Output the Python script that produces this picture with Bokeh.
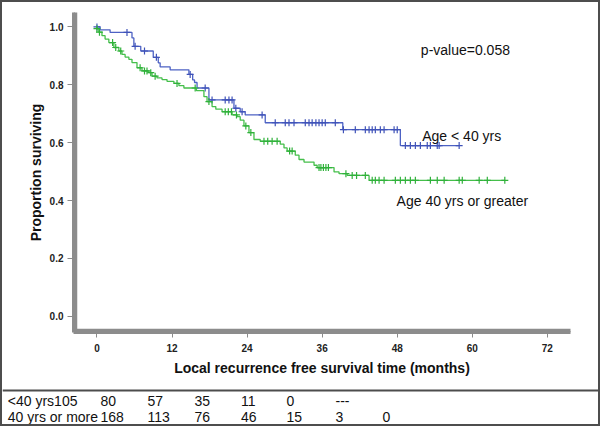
import numpy as np
from bokeh.plotting import figure
from bokeh.models import Range1d, Label, Span, NumeralTickFormatter, ColumnDataSource
from bokeh.layouts import column
from bokeh.embed import file_html
from bokeh.resources import INLINE
from bokeh.core.properties import value

# ---------------- data ----------------
x_ticks = [0, 12, 24, 36, 48, 60, 72]
y_ticks = [0.0, 0.2, 0.4, 0.6, 0.8, 1.0]

# Age < 40 yrs : event times (months) and survival after each step
lt40_event_months = [0.5, 2.1, 5.6, 5.9, 7.0, 9.0, 9.8, 10.1, 11.7, 14.7, 15.3, 15.6,
                     16.0, 17.9, 21.9, 22.9, 23.7, 26.9, 39.3, 48.5]
lt40_survival = [0.990, 0.981, 0.962, 0.933, 0.917, 0.895, 0.876, 0.862, 0.852, 0.836,
                 0.817, 0.808, 0.789, 0.748, 0.719, 0.707, 0.696, 0.669, 0.645, 0.590]
lt40_censored = [0.0, 4.8, 6.1, 7.6, 9.5, 14.9, 17.3, 18.4, 20.5, 21.1, 21.6, 22.2, 23.2,
                 26.4, 28.5, 30.1, 30.7, 31.5, 33.3, 33.9, 34.4, 35.0, 35.5, 36.0, 36.5,
                 38.1, 39.4, 41.3, 42.9, 43.5, 44.0, 44.5, 45.3, 45.9, 47.5, 48.0, 49.3,
                 50.1, 50.9, 51.7, 52.8, 53.3, 54.4, 54.7, 57.9]

# Age 40 yrs or greater
ge40_event_months = [0.0, 0.3, 0.8, 1.3, 1.9, 2.7, 3.5, 4.0, 4.5, 5.1, 5.6, 6.4, 7.2, 8.3,
                     8.8, 9.6, 10.4, 11.2, 12.3, 13.1, 13.9, 15.9, 17.1, 17.6, 18.4, 19.0,
                     20.0, 21.6, 22.4, 22.9, 23.5, 24.3, 25.1, 26.1, 29.3, 29.9, 30.4, 31.7,
                     32.3, 33.1, 34.7, 35.2, 37.9, 38.7, 40.0, 43.5]
ge40_survival = [0.994, 0.982, 0.970, 0.958, 0.946, 0.929, 0.917, 0.905, 0.896, 0.888,
                 0.877, 0.859, 0.848, 0.842, 0.830, 0.824, 0.818, 0.812, 0.805, 0.797,
                 0.789, 0.780, 0.759, 0.742, 0.725, 0.716, 0.707, 0.696, 0.690, 0.678,
                 0.658, 0.635, 0.611, 0.605, 0.595, 0.582, 0.571, 0.557, 0.542, 0.533,
                 0.522, 0.514, 0.499, 0.493, 0.487, 0.470]
ge40_censored = [0.0, 0.4, 2.5, 3.0, 3.8, 6.9, 7.6, 8.0, 8.6, 9.3, 12.8, 15.7, 17.9, 20.5,
                 21.0, 21.5, 22.3, 23.8, 24.6, 26.7, 27.3, 28.0, 28.8, 30.8, 31.2, 35.5,
                 35.8, 36.2, 36.6, 37.0, 39.8, 40.8, 41.5, 42.9, 44.0, 44.5, 45.1, 45.9,
                 47.7, 48.5, 49.3, 50.1, 50.9, 53.3, 54.4, 55.5, 57.9, 58.4, 61.1, 62.4,
                 65.2]

# numbers at risk table
risk_row_labels = ["<40 yrs", "40 yrs or more"]
at_risk_lt40 = [105, 80, 57, 35, 11, 0, None]
at_risk_ge40 = [168, 113, 76, 46, 15, 3, 0]

p_value_text = "p-value=0.058"
group_labels = ["Age < 40 yrs", "Age 40 yrs or greater"]

# ---------------- styling ----------------
FONT = "Liberation Sans"
BLUE = "#4d62c4"
BLUE_DARK = "#3f52b8"
GREEN = "#45bf4b"
GREEN_DARK = "#2fb13a"
AXIS_GRAY = "#8c8c8c"
BORDER = "#4d4d4d"

X_START, X_END = -3.75, 75.7
Y_START, Y_END = -0.056, 1.050
W, H = 596, 387
MB_L, MB_R, MB_T, MB_B = 71, 28, 10, 57


def km_path(times, surv, censored):
    xs = [0.0] + list(times) + [max(censored[-1], times[-1])]
    ys = [1.0] + list(surv) + [surv[-1]]
    t = np.asarray(times)
    s = np.asarray(surv)
    idx = np.searchsorted(t, np.asarray(censored), side="right") - 1
    cy = np.where(idx >= 0, s[np.clip(idx, 0, None)], 1.0)
    return xs, ys, list(cy)


p = figure(width=W, height=H,
           x_range=Range1d(X_START, X_END), y_range=Range1d(Y_START, Y_END),
           output_backend="svg", toolbar_location=None,
           min_border_left=MB_L, min_border_right=MB_R,
           min_border_top=MB_T, min_border_bottom=MB_B)
p.grid.visible = False
p.outline_line_color = None
p.background_fill_color = None
p.border_fill_color = None

# thick grey L-shaped axis spines, drawn just inside the plot frame
px_per_x = (W - MB_L - MB_R) / (X_END - X_START)
px_per_y = (H - MB_T - MB_B) / (Y_END - Y_START)
sx0 = float(X_START + 2.0 / px_per_x)
sy0 = float(Y_START + 2.0 / px_per_y)
p.line(x=[sx0, sx0, float(X_END)], y=[float(Y_END), sy0, sy0],
       line_color=AXIS_GRAY, line_width=3.5, level="overlay")

for times, surv, cens, col, mcol in [
        (lt40_event_months, lt40_survival, lt40_censored, BLUE, BLUE_DARK),
        (ge40_event_months, ge40_survival, ge40_censored, GREEN, GREEN_DARK)]:
    xs, ys, cy = km_path(times, surv, cens)
    p.step(xs, ys, mode="after", line_color=col, line_width=1.3)
    p.scatter(cens, cy, marker="cross", size=7, line_color=mcol, line_width=1.2)

p.xaxis.ticker = x_ticks
p.yaxis.ticker = y_ticks
p.yaxis.formatter = NumeralTickFormatter(format="0.0")
p.xaxis.axis_label = "Local recurrence free survival time (months)"
p.yaxis.axis_label = "Proportion surviving"
for ax in list(p.xaxis) + list(p.yaxis):
    ax.axis_line_color = AXIS_GRAY
    ax.axis_line_width = 3
    ax.major_tick_line_color = "#8a8a8a"
    ax.major_tick_line_width = 1
    ax.major_tick_in = 0
    ax.minor_tick_line_color = None
    ax.major_label_text_font = FONT
    ax.major_label_text_font_style = "bold"
    ax.major_label_text_font_size = "10px"
    ax.major_label_text_color = "#222222"
    ax.axis_label_text_font = FONT
    ax.axis_label_text_font_style = "bold"
    ax.axis_label_text_font_size = "14px"
    ax.axis_label_text_color = "#111111"
p.xaxis.major_tick_out = 5
p.yaxis.major_tick_out = 6
p.xaxis.major_label_standoff = 6
p.yaxis.major_label_standoff = 4
p.xaxis.axis_label_standoff = 5
p.yaxis.axis_label_standoff = 3

text_kw = dict(text_font=FONT, text_font_size="14px", text_color="#111111",
               text_baseline="middle")
p.add_layout(Label(x=58.9, y=0.922, text=p_value_text, text_align="center", **text_kw))
p.add_layout(Label(x=52.0, y=0.623, text=group_labels[0], text_align="left", **text_kw))
p.add_layout(Label(x=47.9, y=0.400, text=group_labels[1], text_align="left", **text_kw))

# ---------------- numbers at risk table ----------------
TAB_STOPS = [98, 145, 192, 238.5, 284, 333, 380]
LABEL_X = 5.3
ROW_Y = [24.0, 7.3]

tx, ty, tt = [], [], []
# row 1: label followed directly by the first count, other counts at tab stops
tx.append(LABEL_X); ty.append(ROW_Y[0]); tt.append(risk_row_labels[0] + str(at_risk_lt40[0]))
for i, v in enumerate(at_risk_lt40[1:]):
    tx.append(TAB_STOPS[i]); ty.append(ROW_Y[0]); tt.append("---" if v is None else str(v))
# row 2
tx.append(LABEL_X); ty.append(ROW_Y[1]); tt.append(risk_row_labels[1])
for i, v in enumerate(at_risk_ge40):
    tx.append(TAB_STOPS[i]); ty.append(ROW_Y[1]); tt.append(str(v))

t2 = figure(width=596, height=35, x_range=Range1d(0, 596), y_range=Range1d(0, 35),
            output_backend="svg", toolbar_location=None,
            x_axis_location=None, y_axis_location=None,
            min_border=0, min_border_left=0, min_border_right=0,
            min_border_top=0, min_border_bottom=0)
t2.grid.visible = False
t2.outline_line_color = None
t2.text(x="x", y="y", text="text", source=ColumnDataSource(dict(x=tx, y=ty, text=tt)),
        text_font=value(FONT), text_font_size=value("14px"), text_color="#111111",
        text_align="left", text_baseline="middle")
t2.add_layout(Span(location=35, dimension="width", line_color=BORDER, line_width=4))

for fig in (p, t2):
    if "frame_align" in fig.properties():
        fig.frame_align = False

layout = column(p, t2, spacing=0, styles={"border": "2px solid " + BORDER})

open("out.html", "w").write(file_html(layout, INLINE))
